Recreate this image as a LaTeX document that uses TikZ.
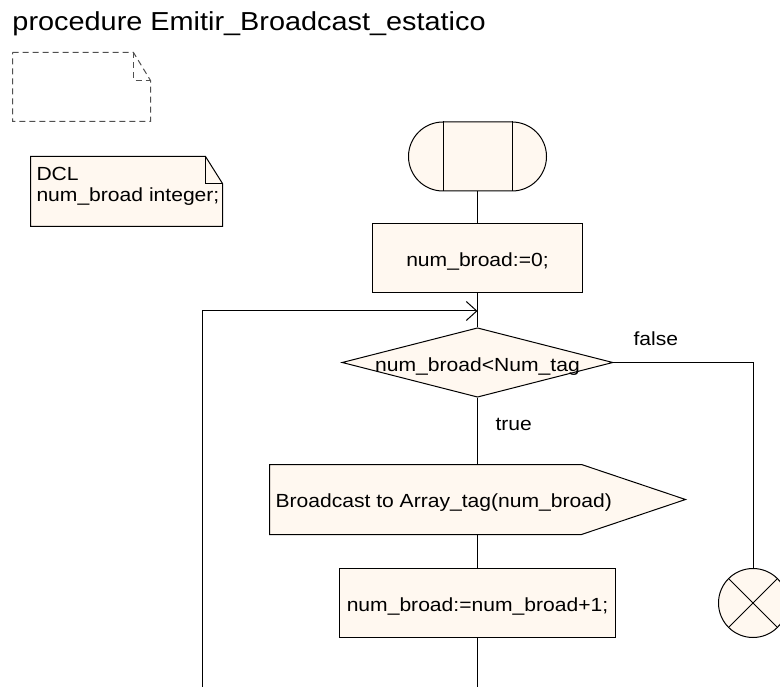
\documentclass[tikz,border=0pt]{standalone}
\usepackage{fontspec}
\setmainfont{Liberation Sans}[FakeStretch=1.11]
\usetikzlibrary{shapes.geometric,shapes.misc,arrows.meta,calc}
\definecolor{cream}{RGB}{255,248,240}
\definecolor{dashgray}{RGB}{80,80,80}
\begin{document}
\begin{tikzpicture}[x=1pt,y=-1pt,line width=1pt,
  txt/.style={inner sep=0pt,font=\fontsize{19}{22}\selectfont},
  box/.style={draw,fill=cream,rectangle,minimum width=#1,minimum height=69pt,
    inner sep=0pt,text height=17pt,text depth=0pt,font=\fontsize{19}{22}\selectfont},
  startsym/.style={draw,fill=cream,rounded rectangle,minimum width=138pt,
    minimum height=69pt,inner sep=0pt},
  decision/.style={draw,fill=cream,diamond,aspect=3.9,minimum width=269pt,
    minimum height=69pt,inner sep=0pt,text height=17pt,text depth=0pt,
    font=\fontsize{19}{22}\selectfont},
  sendbox/.style={rectangle,minimum width=415pt,minimum height=69pt,inner sep=0pt},
  stopsym/.style={draw,fill=cream,circle,minimum size=69pt,inner sep=0pt},
  notedash/.style={draw=dashgray,dash pattern=on 6pt off 4pt},
  loopar/.style={-{Straight Barb[length=10.5pt,width=19pt]}}]
\fill[white] (0,0) rectangle (780,687);
\clip (0,0) rectangle (780,687);
\useasboundingbox (0,0) rectangle (780,687);

% title
\node[anchor=base west,inner sep=0pt,font=\fontsize{26}{30}\selectfont] (title) at (12,31)
  {procedure Emitir\_Broadcast\_estatico};

% dashed empty note
\draw[notedash] (12.5,52.5) -- (133.5,52.5) -- (150.5,80.5) -- (150.5,121.5)
  -- (12.5,121.5) -- cycle;
\draw[notedash] (133.5,52.5) -- (133.5,80.5) -- (150.5,80.5);

% DCL note
\draw[fill=cream] (30.5,156.5) -- (205.5,156.5) -- (222.5,183.5) -- (222.5,226.5)
  -- (30.5,226.5) -- cycle;
\draw (205.5,156.5) -- (205.5,183.5) -- (222.5,183.5);
\node[txt,anchor=base west] (dcl1) at (36,181) {DCL};
\node[txt,anchor=base west] (dcl2) at (36,202) {num\_broad integer;};

% start
\node[startsym] (start) at (477.5,156.5) {};
\draw ($(start.north)+(-34.5,0)$) -- ($(start.south)+(-34.5,0)$);
\draw ($(start.north)+(34.5,0)$) -- ($(start.south)+(34.5,0)$);

% init
\node[box=210pt] (init) at (477.5,258.5) {num\_broad:=0;};

% decision
\node[decision] (cond) at (477.5,362.5) {num\_broad<Num\_tag};
\coordinate (join) at (477.5,311);
\coordinate (loopbot) at (202.5,690);

% send
\node[sendbox] (send) at (477.5,499.5) {};
\draw[fill=cream] (send.north west) -- ($(send.north east)+(-104,0)$) -- (send.east)
  -- ($(send.south east)+(-104,0)$) -- (send.south west) -- cycle;
\node[txt,anchor=base west] (sendtxt) at (275,507) {Broadcast to Array\_tag(num\_broad)};

% increment
\node[box=276pt] (incr) at (477.5,602.5) {num\_broad:=num\_broad+1;};
\coordinate (bot) at (477.5,690);

% stop
\node[stopsym] (stop) at (753,603) {};
\draw (stop.north west) -- (stop.south east);
\draw (stop.north east) -- (stop.south west);

% connectors
\draw (start.south) -- (init.north);
\draw (init.south) -- (cond.north);
\draw[loopar] (loopbot) |- (join);
\draw (cond.south) -- (send.north);
\draw (send.south) -- (incr.north);
\draw (incr.south) -- (bot);
\draw (cond.east) -| (stop.north);

% labels
\node[txt,anchor=base west] (lfalse) at (633,346) {false};
\node[txt,anchor=base west] (ltrue) at (495,431) {true};
\end{tikzpicture}
\end{document}
